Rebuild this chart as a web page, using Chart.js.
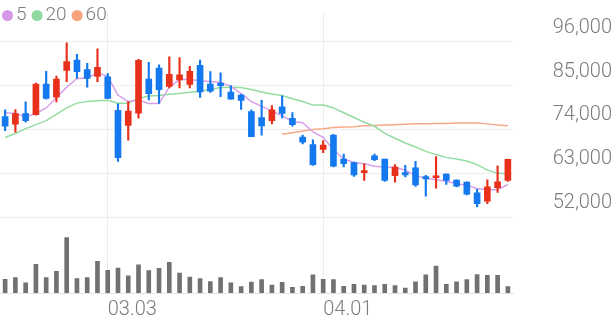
<!DOCTYPE html>
<html>
<head>
<meta charset="utf-8">
<script src="https://cdn.jsdelivr.net/npm/chart.js@4.4.1/dist/chart.umd.min.js"></script>
<style>
  html, body { margin: 0; padding: 0; background: #fff; }
  canvas { display: block; }
</style>
</head>
<body>
<canvas id="myChart" width="616" height="321"></canvas>
<script>
// trading days
const dates = [
  '02.18', '02.19', '02.20', '02.21', '02.24', '02.25', '02.26', '02.27', '02.28', '03.02',
  '03.03', '03.04', '03.05', '03.06', '03.09', '03.10', '03.11', '03.12', '03.13', '03.16',
  '03.17', '03.18', '03.19', '03.20', '03.23', '03.24', '03.25', '03.26', '03.27', '03.30',
  '03.31', '04.01', '04.02', '04.03', '04.06', '04.07', '04.08', '04.09', '04.10', '04.13',
  '04.14', '04.16', '04.17', '04.20', '04.21', '04.22', '04.23', '04.24', '04.27', '04.28'
]
const openP = [
  77200, 75300, 78000, 77700, 85400, 82100, 88800, 91400, 89000, 87300,
  87200, 78800, 75000, 78100, 86600, 89400, 84800, 86400, 85300, 90100,
  85400, 85600, 83400, 82600, 78500, 77000, 76200, 79700, 76800, 72100,
  70200, 69000, 72600, 66600, 65700, 63200, 67400, 66600, 62400, 63200,
  64400, 62200, 61900, 62800, 61300, 60800, 58100, 56000, 59400, 61200
]
const highP = [
  78900, 79000, 80900, 85600, 88600, 87400, 95700, 92800, 90600, 94200,
  88000, 80400, 81000, 91600, 90800, 90200, 92200, 92000, 89800, 91400,
  88500, 88200, 85000, 82800, 78900, 81300, 80000, 82400, 78200, 72600,
  71400, 71200, 72800, 67800, 65800, 65400, 67800, 66600, 65200, 65000,
  66000, 62500, 67200, 62900, 61400, 60900, 59000, 61400, 64900, 66600
]
const lowP = [
  73700, 73300, 75800, 77600, 81600, 80900, 86000, 86800, 84600, 86000,
  81700, 66000, 71300, 76800, 81400, 80500, 84400, 84400, 84400, 82000,
  83300, 82200, 81600, 79000, 72200, 72600, 75400, 76900, 74800, 70400,
  65000, 68200, 64600, 64600, 62200, 61200, 66200, 61000, 60800, 62100,
  59700, 57300, 59300, 60200, 59600, 57600, 54600, 55400, 58200, 61000
]
const closeP = [
  74800, 78000, 76200, 85400, 81800, 86600, 91000, 88500, 86800, 89600,
  81800, 66900, 78600, 91300, 83000, 84000, 87800, 87700, 88600, 83400,
  83600, 85000, 81600, 81300, 72200, 74900, 78900, 78000, 75200, 70800,
  65200, 70100, 64800, 65400, 62600, 63600, 66400, 61200, 64600, 62600,
  60100, 61600, 62400, 61200, 59800, 57800, 55400, 59600, 60900, 66500
]
const volume = [
  430000, 480000, 320000, 900000, 480000, 680000, 1730000, 450000, 480000, 990000,
  710000, 780000, 540000, 880000, 700000, 770000, 960000, 620000, 500000, 450000,
  360000, 480000, 320000, 200000, 340000, 420000, 250000, 330000, 180000, 210000,
  570000, 430000, 420000, 210000, 270000, 250000, 230000, 270000, 230000, 150000,
  350000, 570000, 840000, 270000, 350000, 420000, 580000, 550000, 550000, 200000
]
const ma5 = [
  78200, 78000, 77200, 78000, 79400, 82000, 84600, 86800, 86900, 88200,
  87300, 82600, 81000, 81400, 80500, 80500, 84600, 86500, 86500, 86200,
  86000, 85800, 84800, 83000, 81000, 79800, 78600, 77400, 76000, 75700,
  73400, 72000, 68900, 66600, 65700, 65400, 64800, 64600, 64500, 63800,
  62400, 61800, 61400, 61000, 60400, 60000, 59200, 58900, 58900, 60200
]
const ma20 = [
  72000, 73000, 74200, 75200, 76200, 77800, 79400, 80600, 81000, 81200,
  81300, 80600, 80600, 81800, 82400, 82500, 82800, 83000, 83300, 83600,
  84000, 84500, 84600, 84500, 84000, 83400, 82900, 82500, 81700, 81000,
  80100, 80100, 79400, 78200, 77000, 75800, 74800, 73000, 71800, 70600,
  69600, 68500, 67700, 67000, 66600, 66100, 65200, 63800, 63000, 62900
]
const ma60 = [
  null, null, null, null, null, null, null, null, null, null,
  null, null, null, null, null, null, null, null, null, null,
  null, null, null, null, null, null, null, 72800, 73200, 73600,
  74000, 74200, 74500, 74600, 74700, 74900, 75000, 75100, 75200, 75300,
  75400, 75400, 75500, 75500, 75600, 75600, 75600, 75400, 75100, 74900
]
const priceTicks = [52000, 63000, 74000, 85000, 96000]
const dateTicks = ['03.03', '04.01']

const upColor = '#e8301a'
const downColor = '#1479ee'
const textColor = '#7c7c7c'

const candleColors = closeP.map((c, i) => c >= openP[i] ? upColor : downColor)
const wicks = lowP.map((l, i) => [l, highP[i]])
const bodies = openP.map((o, i) => [Math.min(o, closeP[i]), Math.max(o, closeP[i])])

// legend drawn inside the plot, top left
const maLegend = {
  id: 'maLegend',
  afterDraw(chart) {
    const ctx = chart.ctx
    let x = 2
    ctx.save()
    ctx.font = '300 19px Roboto'
    ctx.textBaseline = 'middle'
    chart.data.datasets.forEach(ds => {
      if (!ds.maLegend) return
      ctx.fillStyle = ds.maLegend
      ctx.beginPath()
      ctx.arc(x + 5.5, 15.5, 5.5, 0, Math.PI * 2)
      ctx.fill()
      ctx.fillStyle = textColor
      ctx.fillText(ds.label, x + 14, 15.5)
      x += 14 + ctx.measureText(ds.label).width + 5
    })
    ctx.restore()
  }
}

Chart.defaults.font.family = 'Roboto'

let lineSet = (label, data, color, dot) => ({
  type: 'line', label: label, data: data, yAxisID: 'y', order: 2,
  borderColor: color, borderWidth: 1.5, pointRadius: 0, tension: 0, maLegend: dot
})

var ctx = document.getElementById('myChart')
var myChart = new Chart(ctx, {
  data: {
    labels: dates,
    datasets: [
      lineSet('5', ma5, '#d9a0ea', '#d597e6'),
      lineSet('20', ma20, '#94dca2', '#90d99e'),
      lineSet('60', ma60, '#f8a987', '#f6a27b'),
      {
        type: 'bar', label: 'wick', data: wicks, yAxisID: 'y', order: 1,
        backgroundColor: candleColors, barThickness: 1.5, grouped: false
      },
      {
        type: 'bar', label: 'body', data: bodies, yAxisID: 'y', order: 0,
        backgroundColor: candleColors, barThickness: 6, minBarLength: 2, grouped: false
      },
      {
        type: 'bar', label: 'volume', data: volume, yAxisID: 'v', order: 3,
        backgroundColor: '#717171', barThickness: 4, grouped: false
      }
    ]
  },
  options: {
    responsive: false,
    animation: false,
    layout: { padding: { top: 0, left: 0, right: 4, bottom: 0 } },
    plugins: { legend: { display: false }, tooltip: { enabled: false } },
    scales: {
      x: {
        offset: true,
        grid: {
          offset: false, drawTicks: false,
          color: c => dateTicks.includes(dates[c.index]) ? '#ededed' : 'rgba(0,0,0,0)'
        },
        border: { display: true, color: '#e6e6e6' },
        ticks: {
          autoSkip: false, maxRotation: 0, minRotation: 0, align: 'start', padding: 5,
          color: textColor, font: { size: 20, weight: 300 },
          callback: (v, i) => dateTicks.includes(dates[i]) ? dates[i] : ''
        },
        afterFit: s => { s.height = 28 }
      },
      y: {
        position: 'right', stack: 'main', stackWeight: 214,
        min: 52000, max: 103440,
        afterBuildTicks: s => { s.ticks = priceTicks.map(v => ({ value: v })) },
        afterFit: s => { s.width = 99 },
        grid: { color: '#ededed', drawTicks: false },
        border: { display: false },
        ticks: {
          crossAlign: 'far', labelOffset: -14, padding: 0,
          color: textColor, font: { size: 20, weight: 300 },
          callback: v => v.toLocaleString('en-US')
        }
      },
      v: {
        position: 'right', stack: 'main', stackWeight: 79,
        min: 0, max: 2370000,
        afterFit: s => { s.width = 99 },
        grid: { display: false },
        border: { display: false },
        ticks: { display: false }
      }
    }
  },
  plugins: [maLegend]
})
</script>
</body>
</html>
